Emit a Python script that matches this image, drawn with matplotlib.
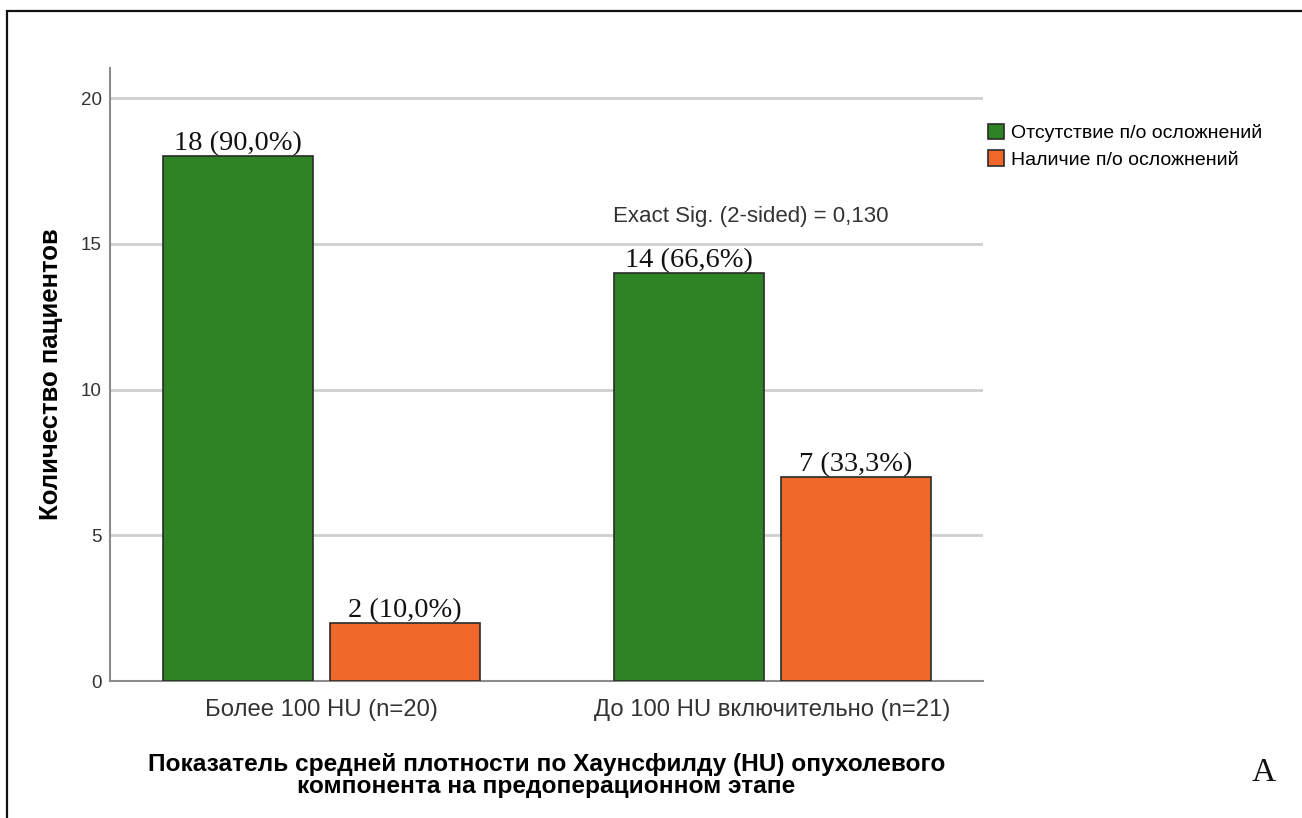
import matplotlib
matplotlib.use("Agg")
import matplotlib.pyplot as plt
from matplotlib.patches import Rectangle, Patch
import numpy as np

categories = ["Более 100 HU (n=20)", "До 100 HU включительно (n=21)"]
series_names = ["Отсутствие п/о осложнений", "Наличие п/о осложнений"]
no_complications = [18, 14]
complications = [2, 7]
no_complications_pct = ["90,0%", "66,6%"]
complications_pct = ["10,0%", "33,3%"]
y_ticks = [0, 5, 10, 15, 20]
sig_text = "Exact Sig. (2-sided) = 0,130"
panel_letter = "A"

green = "#2e8424"
orange = "#f0672a"
edge = "#2a2a2a"
grid_col = "#cfcfcf"
axis_col = "#8c8c8c"

sans = ["Liberation Sans", "DejaVu Sans"]
serif = ["Liberation Serif", "DejaVu Serif"]

fig = plt.figure(figsize=(13.02, 8.18), dpi=100)
fig.patches.append(Rectangle((7 / 1302, -0.05), 1.1, (818 - 11) / 818 + 0.05,
                             transform=fig.transFigure, fill=False,
                             edgecolor="#111111", linewidth=1.6))

ax = fig.add_axes([110 / 1302, (818 - 681) / 818, (983 - 110) / 1302, (681 - 68) / 818])

x = np.arange(len(categories))
width = 0.3326
offset = 0.185

b1 = ax.bar(x - offset, no_complications, width, color=green, edgecolor=edge,
            linewidth=1.2, zorder=3)
b2 = ax.bar(x + offset, complications, width, color=orange, edgecolor=edge,
            linewidth=1.2, zorder=3)

for bars, vals, pcts in ((b1, no_complications, no_complications_pct),
                         (b2, complications, complications_pct)):
    for rect, v, p in zip(bars, vals, pcts):
        ax.annotate(f"{v} ({p})", (rect.get_x() + rect.get_width() / 2, v),
                    xytext=(0, 0), textcoords="offset points",
                    ha="center", va="bottom", fontsize=20.5, family=serif,
                    color="#111111", zorder=4)

ax.set_xlim(-0.469, 1.467)
ax.set_ylim(0, 21.03)
ax.set_yticks(y_ticks)
ax.set_yticklabels([str(t) for t in y_ticks], fontsize=13.5, family=sans, color="#333333")
ax.set_xticks(x)
ax.set_xticklabels(categories, fontsize=17.2, family=sans, color="#333333")
ax.tick_params(axis="both", length=0)
ax.tick_params(axis="y", pad=6)
ax.tick_params(axis="x", pad=13)

for t in y_ticks[1:]:
    ax.axhline(t, color=grid_col, linewidth=2, zorder=1)

for s in ("top", "right"):
    ax.spines[s].set_visible(False)
ax.spines["left"].set_color(axis_col)
ax.spines["bottom"].set_color(axis_col)
ax.spines["left"].set_linewidth(1.5)
ax.spines["bottom"].set_linewidth(1.5)

ax.set_ylabel("Количество пациентов", fontsize=18.5, fontweight="bold",
              family=sans, labelpad=13)
ax.set_xlabel("Показатель средней плотности по Хаунсфилду (HU) опухолевого\n"
              "компонента на предоперационном этапе",
              fontsize=17.6, fontweight="bold", family=sans, labelpad=23,
              linespacing=0.95)

ax.text(0.952, 15.93, sig_text, ha="center", va="center", fontsize=16,
        family=sans, color="#333333")

handles = [Patch(facecolor=green, edgecolor=edge, linewidth=1.2),
           Patch(facecolor=orange, edgecolor=edge, linewidth=1.2)]
fig.legend(handles, series_names, loc="upper left",
           bbox_to_anchor=(982 / 1302, (818 - 118) / 818), frameon=False,
           prop={"family": sans, "size": 14}, handlelength=0.85,
           handleheight=0.85, handletextpad=0.35, labelspacing=0.4,
           borderaxespad=0, borderpad=0.3)

fig.text(1264 / 1302, (818 - 773) / 818, panel_letter, ha="center", va="center",
         fontsize=24, family=serif, color="#111111")

fig.savefig("out.png", dpi=100, facecolor="white")
